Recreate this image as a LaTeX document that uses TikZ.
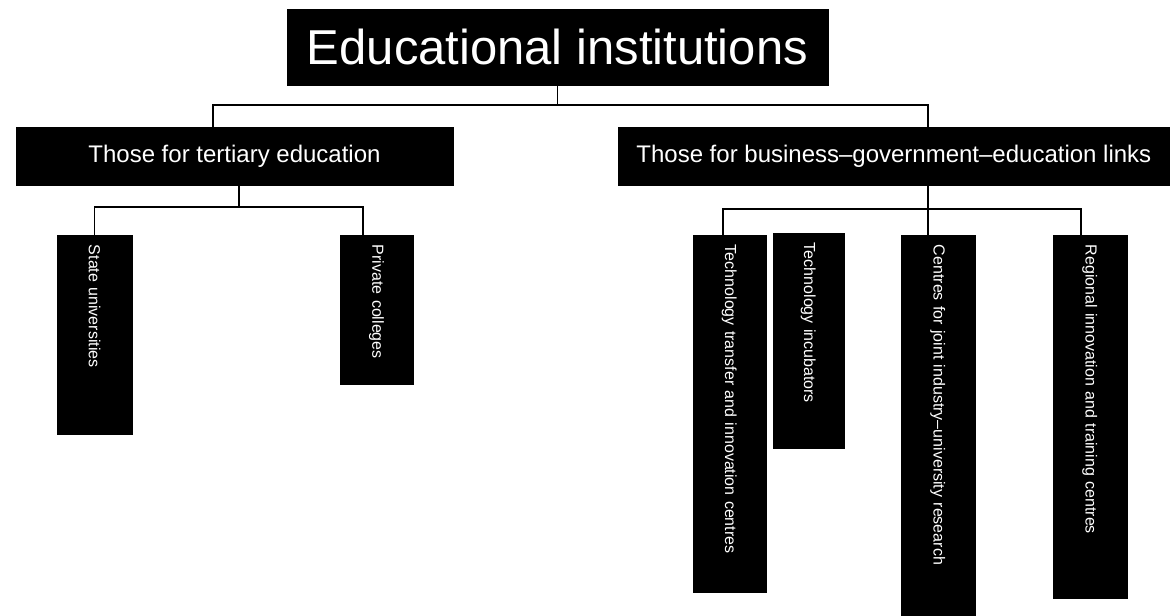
\documentclass[tikz,border=0pt]{standalone}
\usepackage{fontspec}
\setmainfont{Liberation Sans}
\usetikzlibrary{positioning}

\begin{document}
\begin{tikzpicture}[
      x=1pt, y=-1pt,
      headbox/.style={draw=black, fill=black, text=white, inner sep=0pt, minimum width=541pt, minimum height=76pt, font=\fontsize{49}{52}\selectfont},
      groupbox/.style={draw=black, fill=black, text=white, inner sep=0pt, minimum height=58pt, font=\fontsize{24}{26}\selectfont},
      leafbox/.style={draw=black, fill=black, text=white, rotate=-90, inner ysep=0pt, inner xsep=10pt, minimum height=74pt, minimum width=#1, text width=#1-20pt, align=left, font=\fontsize{16}{18}\selectfont},
      link/.style={draw, line width=1.5pt}
    ]
    \fill[white] (0,0) rectangle (1170,615);

    \node[headbox] (edu) at (557.5,47) {Educational institutions};
    \node[groupbox, minimum width=437pt] (tert) at (234.5,156) {Those for tertiary education};
    \node[groupbox, minimum width=552pt] (bus) at (894,156) {Those for business--government--education links};

    % tertiary branch
    \node[leafbox=199pt, minimum height=75pt] (uni) at (94.5,334.5) {State universities};
    \node[leafbox=149pt, minimum height=73pt] (poly) at (376.5,309.5) {Private colleges};

    % business branch
    \node[leafbox=357pt, minimum height=73pt] (transfer) at (729.5,413.5) {Technology transfer and innovation centres};
    \node[leafbox=215pt, minimum height=71pt] (incub) at (808.5,340.5) {Technology incubators};
    \node[leafbox=380pt] (joint) at (938,425) {Centres for joint industry--university research};
    \node[leafbox=363pt] (region) at (1090,416.5) {Regional innovation and training centres};

    \draw[link] (edu.south) -- ++(0,20) -| ([xshift=-21.5pt]tert.north);
    \draw[link] (edu.south) -- ++(0,20) -| ([xshift=34pt]bus.north);

    \draw[link] ([xshift=4.5pt]tert.south) -- ++(0,22) -| (uni.west);
    \draw[link] ([xshift=4.5pt]tert.south) -- ++(0,22) -| ([xshift=-13.5pt]poly.west);

    \draw[link] ([xshift=34pt]bus.south) -- ++(0,24) -| ([xshift=-6.5pt]transfer.west);
    \draw[link] ([xshift=34pt]bus.south) -- ([xshift=-10pt]joint.west);
    \draw[link] ([xshift=34pt]bus.south) -- ++(0,24) -| ([xshift=-9pt]region.west);
  \end{tikzpicture}
\end{document}
